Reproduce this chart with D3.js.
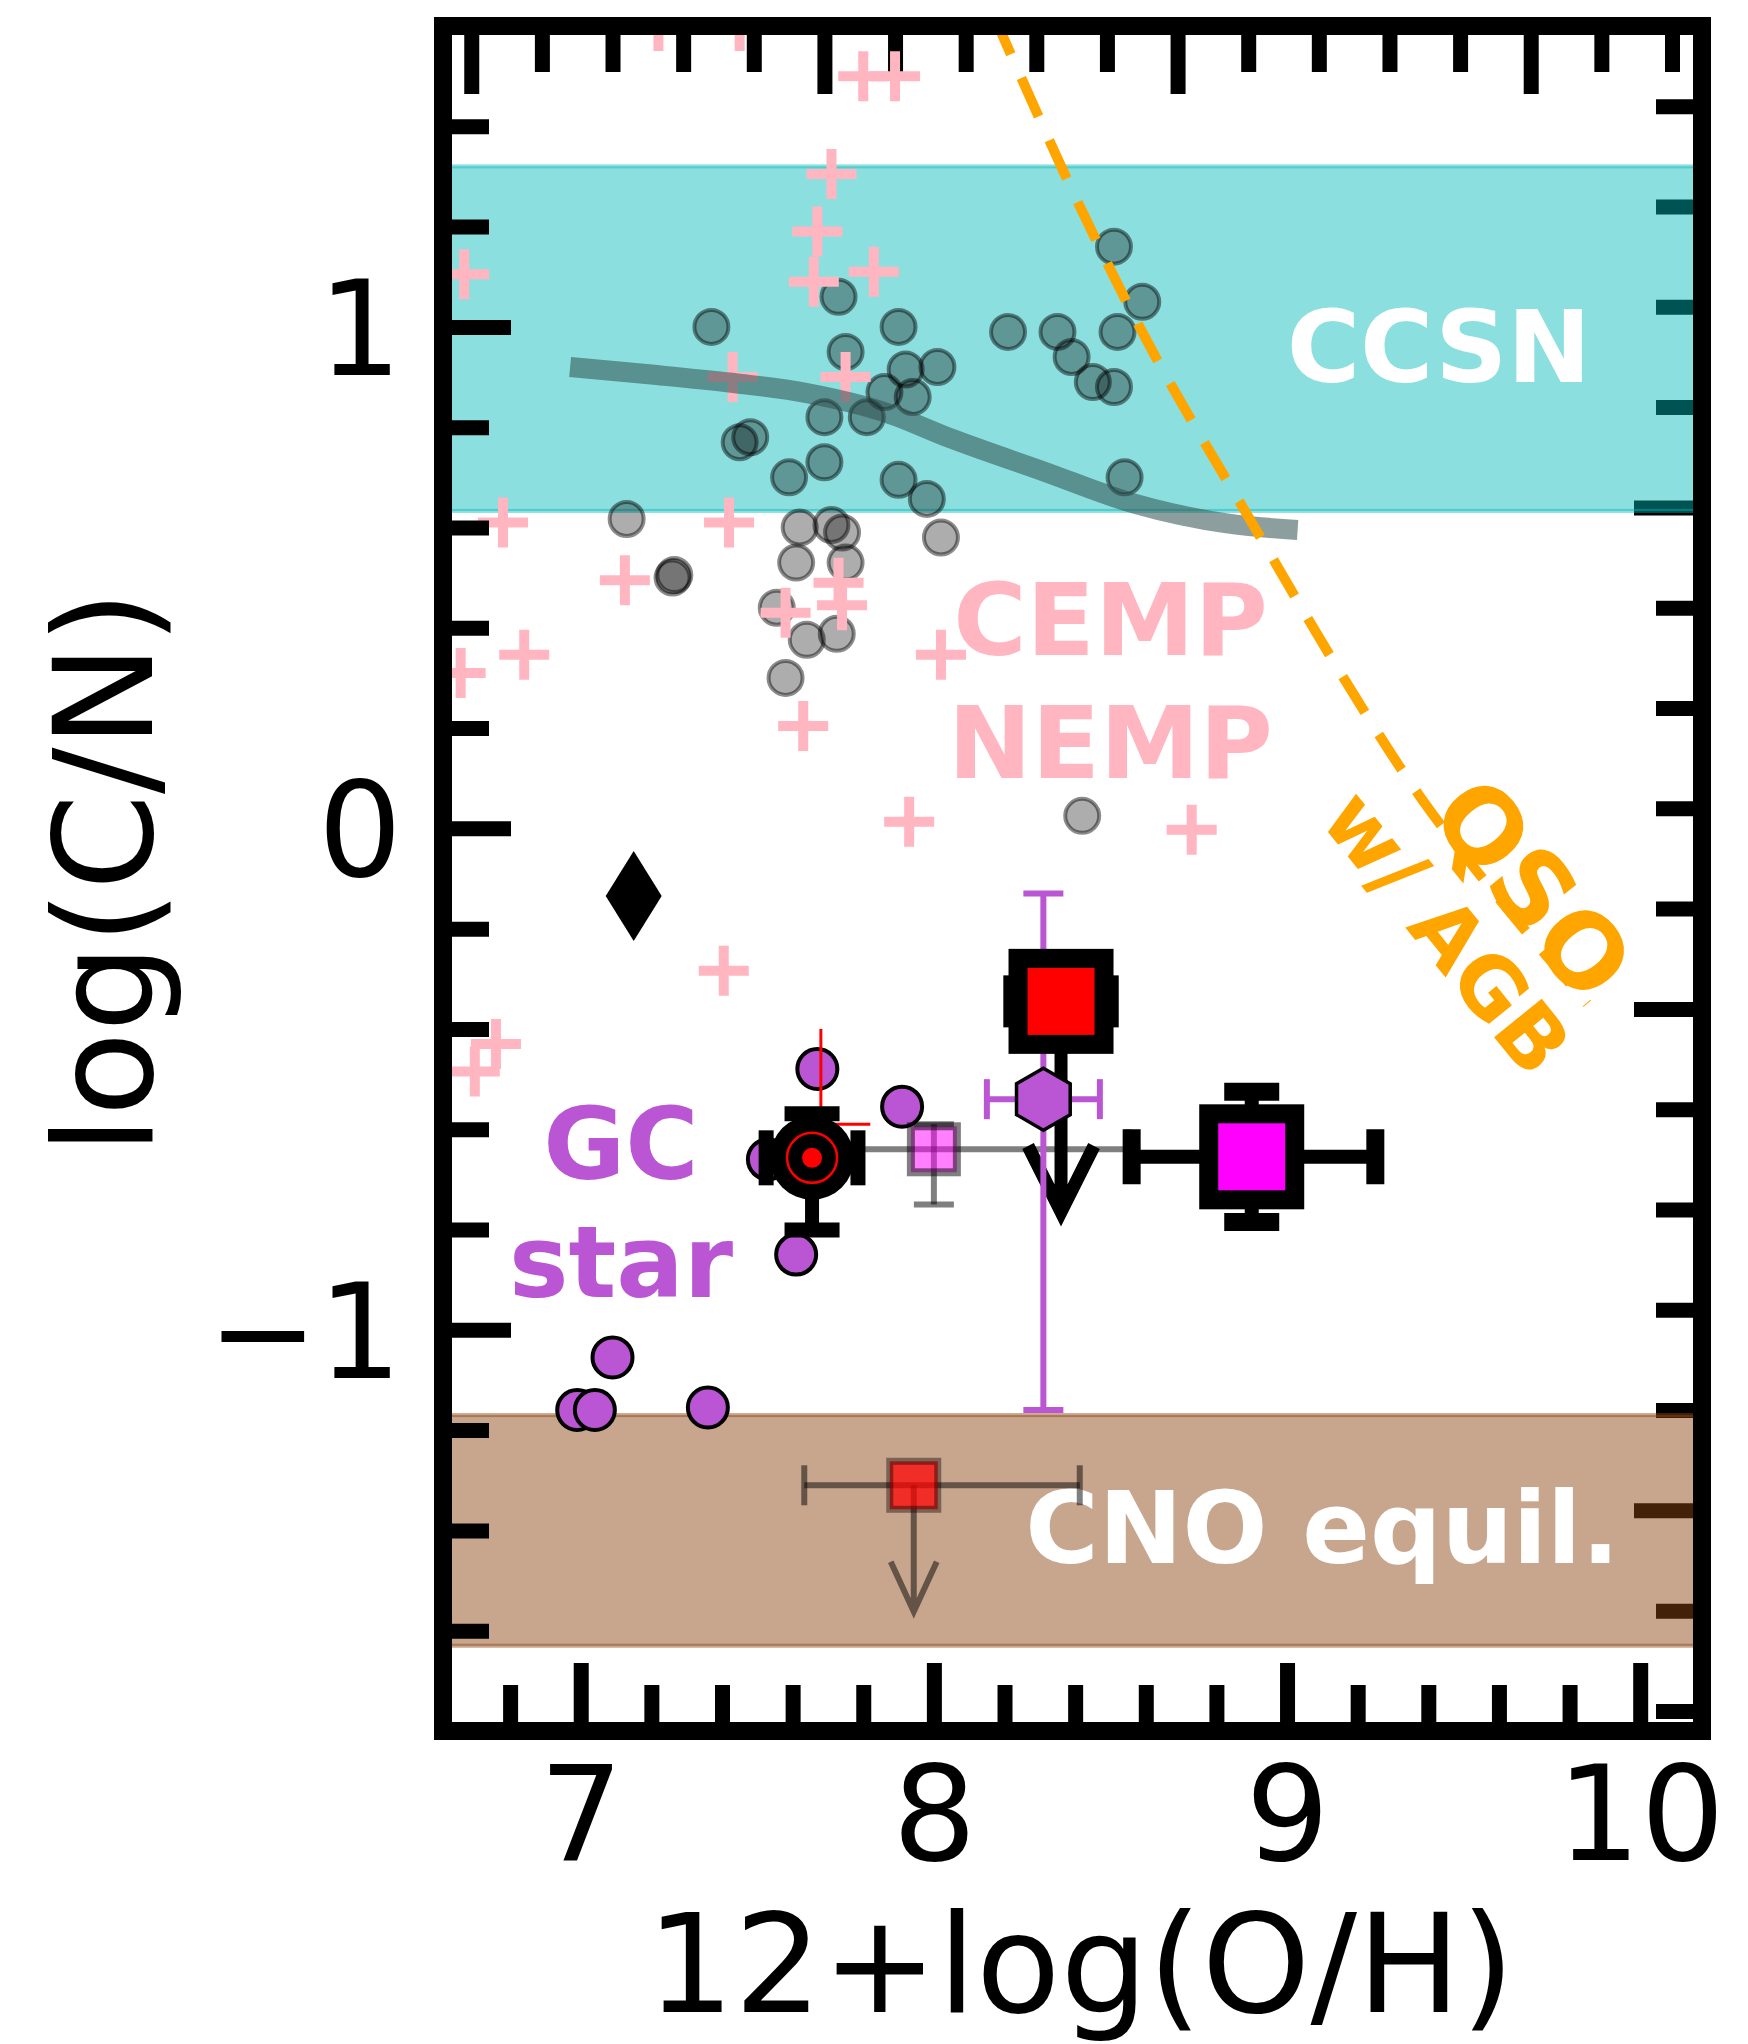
<!DOCTYPE html>
<html>
<head>
<meta charset="utf-8">
<script src="https://cdn.jsdelivr.net/npm/d3@7"></script>
<style>
  body { margin: 0; background: #ffffff; }
  svg text { font-family: "DejaVu Sans", sans-serif; }
</style>
</head>
<body>
<svg id="chart" width="1748" height="2044"></svg>
<script>
// ---- axis ticks ----
const xMajorTicks = [7, 8, 9, 10];
const yMajorTicks = [-1, 0, 1];

// ---- shaded regions (log C/N) ----
const ccsnBand = [0.633, 1.32];
const cnoBand = [-1.63, -1.17];

// ---- CCSN model track ----
const trackX = [6.97, 7.20, 7.42, 7.64, 7.865, 8.05, 8.31, 8.57, 8.83, 9.03];
const trackY = [0.920, 0.905, 0.889, 0.868, 0.829, 0.777, 0.712, 0.647, 0.608, 0.595];

// ---- QSO with AGB track ----
const qsoX = [8.17, 8.40, 8.62, 8.90, 9.16, 9.38, 9.60, 9.85];
const qsoY = [1.62, 1.26, 0.95, 0.61, 0.30, 0.06, -0.14, -0.35];

// ---- local HII regions / galaxies (grey circles) ----
const grayX = [7.37, 7.90, 8.21, 8.35, 8.39, 8.45, 8.51, 8.51, 8.59, 8.52, 7.73, 7.75, 8.01, 7.92,
               7.94, 7.86, 7.81, 7.69, 7.45, 7.48, 7.59, 7.69, 7.90, 7.98, 8.54, 8.02, 7.13, 7.26,
               7.265, 7.62, 7.71, 7.74, 7.61, 7.75, 7.555, 7.64, 7.725, 7.58, 8.42];
const grayY = [1.00, 1.00, 0.99, 0.99, 0.94, 0.89, 0.88, 1.16, 1.05, 0.99, 1.06, 0.95, 0.92, 0.915,
               0.86, 0.87, 0.82, 0.82, 0.77, 0.78, 0.70, 0.73, 0.695, 0.657, 0.70, 0.58, 0.617, 0.50,
               0.505, 0.60, 0.605, 0.59, 0.53, 0.53, 0.44, 0.376, 0.388, 0.30, 0.025];

// ---- CEMP / NEMP stars (pink crosses) ----
const pinkX = [7.22, 7.45, 7.80, 7.89, 7.71, 7.67, 7.83, 7.66, 6.67, 7.43, 7.75, 6.78, 7.42,
               7.125, 7.73, 7.74, 7.58, 6.84, 6.66, 8.02, 7.63, 7.93, 7.405, 6.76, 6.70, 8.73];
const pinkY = [1.60, 1.60, 1.50, 1.50, 1.305, 1.19, 1.11, 1.09, 1.105, 0.90, 0.90, 0.61, 0.61,
               0.495, 0.49, 0.445, 0.43, 0.346, 0.31, 0.346, 0.204, 0.013, -0.284, -0.43, -0.485, -0.003];

// ---- globular-cluster stars ----
const gcX = [7.67, 7.91, 7.61, 7.09, 6.99, 7.04, 7.36, 7.53];
const gcY = [-0.48, -0.555, -0.85, -1.055, -1.16, -1.16, -1.155, -0.66];

// ---- individual objects: [x, y, xErrLo, xErrHi, yErrLo, yErrHi] ----
const diamondPoint = [7.15, -0.135];
const blackCircle = [7.655, -0.657, 0.13, 0.13, 0.144, 0.088];
const redThin = [7.68, -0.59, 0.0, 0.14, 0.0, 0.19];
const pinkSquare = [8.00, -0.64, 0.40, 0.55, 0.11, 0.05];
const hexPoint = [8.31, -0.54, 0.16, 0.16, 0.62, 0.41];
const redSquare = [8.36, -0.345, 0.145, 0.145];
const redSquareLimit = -0.765;
const magentaSquare = [8.90, -0.655, 0.34, 0.35, 0.13, 0.13];
const cnoSquare = [7.943, -1.31, 0.31, 0.47];
const cnoSquareLimit = -1.562;

// ---- geometry ----
const L = 443, R = 1702, T = 26, B = 1731;
const x = d3.scaleLinear().domain([6.61, 10.175]).range([L, R]);
const y = d3.scaleLinear().domain([-1.8, 1.6]).range([B, T]);
// secondary frame axes carry their own offset tick sets
const xTop = d3.scaleLinear().domain([6.61 + 0.31, 10.175 + 0.31]).range([L, R]);
const yRight = d3.scaleLinear().domain([-1.8 + 0.36, 1.6 + 0.36]).range([B, T]);

const svg = d3.select("#chart");
svg.append("defs").append("clipPath").attr("id", "plotClip")
  .append("rect").attr("x", L).attr("y", T).attr("width", R - L).attr("height", B - T);

const MAJ = 68, MIN = 46, TW = 15;
function minorRange(lo, hi, step, majors) {
  const out = [];
  for (let v = Math.ceil(lo / step) * step; v <= hi + 1e-9; v += step) {
    const r = Math.round(v * 10) / 10;
    if (!majors.some(m => Math.abs(m - r) < 1e-6)) out.push(r);
  }
  return out;
}
function styleTicks(g) {
  g.select(".domain").remove();
  g.selectAll(".tick line").attr("stroke", "#000").attr("stroke-width", TW);
}

// ---- secondary (top / right) ticks, underneath the shaded regions ----
const twin = svg.append("g");
twin.append("g").attr("transform", `translate(0,${T})`)
  .call(d3.axisTop(xTop).tickValues(xMajorTicks).tickSize(-MAJ).tickFormat(""))
  .call(styleTicks);
twin.append("g").attr("transform", `translate(0,${T})`)
  .call(d3.axisTop(xTop).tickValues(minorRange(6.92, 10.48, 0.2, xMajorTicks)).tickSize(-MIN).tickFormat(""))
  .call(styleTicks);
twin.append("g").attr("transform", `translate(${R},0)`)
  .call(d3.axisRight(yRight).tickValues(yMajorTicks).tickSize(-MAJ).tickFormat(""))
  .call(styleTicks);
twin.append("g").attr("transform", `translate(${R},0)`)
  .call(d3.axisRight(yRight).tickValues(minorRange(-1.44, 1.96, 0.2, yMajorTicks)).tickSize(-MIN).tickFormat(""))
  .call(styleTicks);

const plot = svg.append("g").attr("clip-path", "url(#plotClip)");

// ---- shaded regions ----
function band(range, color, op) {
  plot.append("rect")
    .attr("x", L).attr("width", R - L)
    .attr("y", y(range[1])).attr("height", y(range[0]) - y(range[1]))
    .attr("fill", color).attr("fill-opacity", op)
    .attr("stroke", color).attr("stroke-opacity", op).attr("stroke-width", 4);
}
band(ccsnBand, "rgb(0,185,185)", 0.45);
band(cnoBand, "rgb(139,69,19)", 0.48);

// ---- grey circles ----
plot.append("g").selectAll("circle").data(d3.range(grayX.length)).join("circle")
  .attr("cx", i => x(grayX[i])).attr("cy", i => y(grayY[i])).attr("r", 17)
  .attr("fill", "#000").attr("fill-opacity", 0.32)
  .attr("stroke", "#000").attr("stroke-opacity", 0.45).attr("stroke-width", 4);

// ---- pink crosses ----
const arm = 25;
plot.append("g").selectAll("path").data(d3.range(pinkX.length)).join("path")
  .attr("d", i => {
    const cx = x(pinkX[i]), cy = y(pinkY[i]);
    return `M${cx - arm},${cy}H${cx + arm}M${cx},${cy - arm}V${cy + arm}`;
  })
  .attr("stroke", "#ffb6c1").attr("stroke-width", 10).attr("fill", "none");

// ---- CCSN track ----
plot.append("path")
  .datum(d3.range(trackX.length))
  .attr("d", d3.line().x(i => x(trackX[i])).y(i => y(trackY[i])).curve(d3.curveMonotoneX))
  .attr("fill", "none").attr("stroke", "rgb(47,79,79)").attr("stroke-opacity", 0.55)
  .attr("stroke-width", 20);

// ---- QSO w/ AGB track ----
plot.append("path")
  .datum(d3.range(qsoX.length))
  .attr("d", d3.line().x(i => x(qsoX[i])).y(i => y(qsoY[i])).curve(d3.curveCatmullRom))
  .attr("fill", "none").attr("stroke", "#ffa500").attr("stroke-width", 10)
  .attr("stroke-dasharray", "42 26");

// ---- region labels ----
const labels = svg.append("g");
function label(txt, px, py, size, color, rot) {
  const t = labels.append("text")
    .attr("x", px).attr("y", py)
    .attr("text-anchor", "middle")
    .attr("font-size", size).attr("font-weight", "bold")
    .attr("fill", color).text(txt);
  if (rot) t.attr("transform", `rotate(${rot},${px},${py})`);
  return t;
}
label("CCSN", x(9.43), y(0.890), 100, "#ffffff");
label("CEMP", x(8.50), y(0.345), 100, "#ffb6c1");
label("NEMP", x(8.50), y(0.100), 100, "#ffb6c1");
label("CNO equil.", x(9.10), y(-1.465), 100, "#ffffff");
label("QSO", x(9.617), y(-0.165), 102, "#ffa500", 51);
label("w/ AGB", x(9.388), y(-0.244), 84, "#ffa500", 51);

// ---- error bar helper ----
function errbar(g, p, color, width, cap, capW, op) {
  const cx = x(p[0]), cy = y(p[1]);
  const s = g.append("g").attr("stroke", color).attr("stroke-opacity", op).attr("fill", "none");
  if (p.length > 2 && (p[2] || p[3])) {
    const x0 = x(p[0] - p[2]), x1 = x(p[0] + p[3]);
    s.append("line").attr("x1", x0).attr("x2", x1).attr("y1", cy).attr("y2", cy).attr("stroke-width", width);
    if (p[2]) s.append("line").attr("x1", x0).attr("x2", x0).attr("y1", cy - cap / 2).attr("y2", cy + cap / 2).attr("stroke-width", capW);
    if (p[3]) s.append("line").attr("x1", x1).attr("x2", x1).attr("y1", cy - cap / 2).attr("y2", cy + cap / 2).attr("stroke-width", capW);
  }
  if (p.length > 4 && (p[4] || p[5])) {
    const y0 = y(p[1] - p[4]), y1 = y(p[1] + p[5]);
    s.append("line").attr("x1", cx).attr("x2", cx).attr("y1", y0).attr("y2", y1).attr("stroke-width", width);
    if (p[4]) s.append("line").attr("y1", y0).attr("y2", y0).attr("x1", cx - cap / 2).attr("x2", cx + cap / 2).attr("stroke-width", capW);
    if (p[5]) s.append("line").attr("y1", y1).attr("y2", y1).attr("x1", cx - cap / 2).attr("x2", cx + cap / 2).attr("stroke-width", capW);
  }
}
function limitArrow(g, px, py, yTip, color, width, headW, headH, op) {
  const cx = x(px), c0 = y(py), c1 = y(yTip);
  g.append("path")
    .attr("d", `M${cx},${c0}V${c1}M${cx - headW / 2},${c1 - headH}L${cx},${c1}L${cx + headW / 2},${c1 - headH}`)
    .attr("fill", "none").attr("stroke", color).attr("stroke-opacity", op)
    .attr("stroke-width", width).attr("stroke-linejoin", "miter");
}
function square(g, p, side, fill, fillOp, stroke, strokeW, strokeOp) {
  g.append("rect")
    .attr("x", x(p[0]) - side / 2).attr("y", y(p[1]) - side / 2)
    .attr("width", side).attr("height", side)
    .attr("fill", fill).attr("fill-opacity", fillOp)
    .attr("stroke", stroke).attr("stroke-width", strokeW).attr("stroke-opacity", strokeOp);
}

const marks = svg.append("g").attr("clip-path", "url(#plotClip)");

// CNO-band upper limit
errbar(marks, cnoSquare, "#000", 6, 40, 6, 0.5);
limitArrow(marks, cnoSquare[0], cnoSquare[1], cnoSquareLimit, "#000", 6, 46, 50, 0.5);
square(marks, cnoSquare, 48, "#ff0000", 0.72, "#000", 7, 0.4);

// diamond
marks.append("path")
  .attr("d", () => {
    const cx = x(diamondPoint[0]), cy = y(diamondPoint[1]);
    return `M${cx},${cy - 45}L${cx + 28},${cy}L${cx},${cy + 45}L${cx - 28},${cy}Z`;
  })
  .attr("fill", "#000");

// globular-cluster stars
marks.append("g").selectAll("circle").data(d3.range(gcX.length)).join("circle")
  .attr("cx", i => x(gcX[i])).attr("cy", i => y(gcY[i])).attr("r", 20)
  .attr("fill", "#ba55d3").attr("stroke", "#000").attr("stroke-width", 4);

// faint magenta square with wide abundance range
errbar(marks, pinkSquare, "#000", 6, 40, 6, 0.5);
square(marks, pinkSquare, 46, "#ff00ff", 0.5, "#000", 8, 0.5);

// thin red error bars
errbar(marks, redThin, "#ff0000", 3, 0, 3, 1);

// black circle with red centre
errbar(marks, blackCircle, "#000", 14, 55, 15, 1);
marks.append("circle").attr("cx", x(blackCircle[0])).attr("cy", y(blackCircle[1])).attr("r", 42).attr("fill", "#000");
marks.append("circle").attr("cx", x(blackCircle[0])).attr("cy", y(blackCircle[1])).attr("r", 25)
  .attr("fill", "none").attr("stroke", "#ff0000").attr("stroke-width", 2.5);
marks.append("circle").attr("cx", x(blackCircle[0])).attr("cy", y(blackCircle[1])).attr("r", 10).attr("fill", "#ff0000");

// big red square: upper limit arrow first
limitArrow(marks, redSquare[0], redSquare[1], redSquareLimit, "#000", 13, 66, 66, 1);

// hexagon with error bars
errbar(marks, hexPoint, "#ba55d3", 6, 40, 6, 1);
marks.append("path")
  .attr("d", () => {
    const cx = x(hexPoint[0]), cy = y(hexPoint[1]), r = 31;
    return d3.range(6).map(k => {
      const a = Math.PI / 2 + k * Math.PI / 3;
      return (k ? "L" : "M") + (cx + r * Math.cos(a)) + "," + (cy - r * Math.sin(a));
    }).join("") + "Z";
  })
  .attr("fill", "#ba55d3").attr("stroke", "#000").attr("stroke-width", 3.5);

errbar(marks, redSquare, "#000", 14, 52, 13, 1);
square(marks, redSquare, 86, "#ff0000", 1, "#000", 19, 1);

errbar(marks, magentaSquare, "#000", 14, 55, 18, 1);
square(marks, magentaSquare, 86, "#ff00ff", 1, "#000", 19, 1);

// GC star label
label("GC", 621, 1179, 100, "#ba55d3");
label("star", 621, 1297, 100, "#ba55d3");

// ---- main axes: ticks, frame, labels ----
const ax = svg.append("g");
ax.append("g").attr("transform", `translate(0,${B})`)
  .call(d3.axisBottom(x).tickValues(minorRange(6.61, 10.175, 0.2, xMajorTicks)).tickSize(-MIN).tickFormat(""))
  .call(styleTicks);
const xAxisG = ax.append("g").attr("transform", `translate(0,${B})`)
  .call(d3.axisBottom(x).tickValues(xMajorTicks).tickSize(-MAJ).tickPadding(35).tickFormat(d3.format("d")))
  .call(styleTicks);
xAxisG.selectAll(".tick text").attr("font-size", 132).attr("fill", "#000")
  .attr("font-family", "DejaVu Sans");

ax.append("g").attr("transform", `translate(${L},0)`)
  .call(d3.axisLeft(y).tickValues(minorRange(-1.8, 1.6, 0.2, yMajorTicks)).tickSize(-MIN).tickFormat(""))
  .call(styleTicks);
const yAxisG = ax.append("g").attr("transform", `translate(${L},0)`)
  .call(d3.axisLeft(y).tickValues(yMajorTicks).tickSize(-MAJ).tickPadding(41).tickFormat(d3.format("d")))
  .call(styleTicks);
yAxisG.selectAll(".tick text").attr("font-size", 132).attr("fill", "#000")
  .attr("font-family", "DejaVu Sans").attr("dy", "0.36em");

ax.append("rect").attr("x", L).attr("y", T).attr("width", R - L).attr("height", B - T)
  .attr("fill", "none").attr("stroke", "#000").attr("stroke-width", 18);

svg.append("text").attr("x", (L + R) / 2 + 8).attr("y", 2012).attr("text-anchor", "middle")
  .attr("font-size", 138).attr("fill", "#000").text("12+log(O/H)");
svg.append("text").attr("transform", `translate(152,${(T + B) / 2 - 6}) rotate(-90)`)
  .attr("text-anchor", "middle").attr("font-size", 138).attr("fill", "#000").text("log(C/N)");
</script>
</body>
</html>
